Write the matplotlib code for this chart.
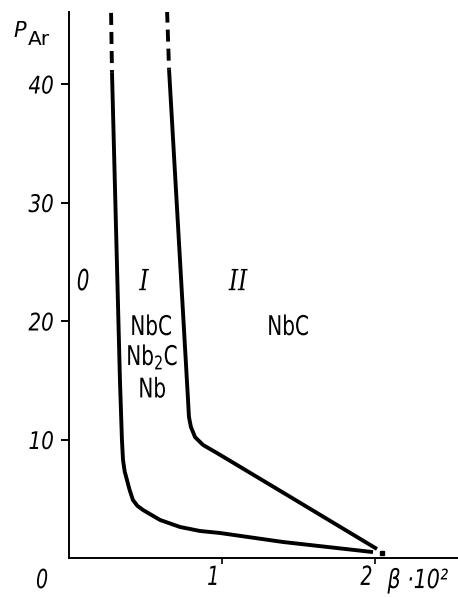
import matplotlib
matplotlib.use("Agg")
import matplotlib.pyplot as plt
from matplotlib.patheffects import AbstractPathEffect
from matplotlib.transforms import Affine2D

# Boundary 0 / I  (x = beta*10^2, y = P_Ar)
left_x = [0.281, 0.333, 0.346, 0.353, 0.364, 0.379, 0.396, 0.418, 0.447, 0.484, 0.595, 0.725, 0.856, 0.987, 1.399, 1.987]
left_y = [41.0, 15.0, 9.96, 8.27, 7.3, 6.58, 5.75, 4.89, 4.4, 4.05, 3.21, 2.62, 2.28, 2.11, 1.35, 0.50]
left_dash_x = [0.275, 0.281]
left_dash_y = [46.0, 41.0]

# Boundary I / II
right_x = [0.654, 0.778, 0.784, 0.797, 0.824, 0.876, 0.967, 1.098, 1.425, 2.013]
right_y = [41.2, 13.33, 11.9, 11.05, 10.2, 9.54, 8.86, 7.85, 5.32, 0.76]
right_dash_x = [0.641, 0.654]
right_dash_y = [46.2, 41.2]

end_dot = (2.046, 0.42)

y_ticks = [10, 20, 30, 40]
x_ticks = [1, 2]


class Squeeze(AbstractPathEffect):
    """Draw text narrower (condensed look) around its own centre."""
    def __init__(self, sx=0.8):
        super().__init__()
        self.sx = sx

    def draw_path(self, renderer, gc, tpath, affine, rgbFace=None):
        ext = tpath.get_extents(affine)
        cx = 0.5 * (ext.x0 + ext.x1)
        tr = affine + Affine2D().translate(-cx, 0).scale(self.sx, 1).translate(cx, 0)
        renderer.draw_path(gc, tpath, tr, rgbFace)


SANS = 'DejaVu Sans'
SERIF = 'DejaVu Serif'

fig = plt.figure(figsize=(4.58, 5.97), dpi=100)
ax = fig.add_axes([69 / 458, 1 - 558 / 597, 1 - 69 / 458, (558 - 12) / 597])
ax.set_xlim(0, (458 - 69) / 153)
ax.set_ylim(0, (558 - 12) / 11.85)

for s in ['top', 'right']:
    ax.spines[s].set_visible(False)
for s in ['left', 'bottom']:
    ax.spines[s].set_linewidth(1.4)

lw = 2.8
ax.plot(left_x, left_y, color='black', lw=lw, solid_capstyle='butt', solid_joinstyle='round')
ax.plot(right_x, right_y, color='black', lw=lw, solid_capstyle='butt', solid_joinstyle='round')
ax.plot(left_dash_x, left_dash_y, color='black', lw=lw, linestyle=(0, (3.1, 1.8)))
ax.plot(right_dash_x, right_dash_y, color='black', lw=lw, linestyle=(0, (3.1, 1.8)))
ax.plot([end_dot[0]], [end_dot[1]], 's', color='black', ms=3, clip_on=False)

# ticks
ax.set_yticks(y_ticks)
ax.set_yticklabels([str(v) for v in y_ticks], family=SANS, style='italic', fontsize=17.5)
ax.tick_params(axis='y', direction='out', length=6, width=1.4, pad=3)
for lab in ax.get_yticklabels():
    lab.set_path_effects([Squeeze(0.82)])

ax.set_xticks(x_ticks)
ax.set_xticklabels([str(v) for v in x_ticks], family=SANS, style='italic', fontsize=19)
ax.tick_params(axis='x', direction='out', length=4, width=1.2, pad=1)
for lab in ax.get_xticklabels():
    lab.set_horizontalalignment('right')
    lab.set_path_effects([Squeeze(0.72)])

ax.text(-0.176, -2.54, '0', family=SANS, style='italic', fontsize=19,
        ha='center', va='baseline', clip_on=False, path_effects=[Squeeze(0.72)])
ax.text(2.28, -2.54, 'β ·10²', family=SANS, style='italic', fontsize=19,
        ha='center', va='baseline', clip_on=False, path_effects=[Squeeze(0.78)])

# axis name
fig.text(13 / 458, 1 - 37 / 597, 'P', family=SANS, style='italic', fontsize=15,
         ha='left', va='baseline')
fig.text(28 / 458, 1 - 45 / 597, 'Ar', family=SANS, fontsize=14.5,
         ha='left', va='baseline')

# region labels
ax.text(0.092, 22.6, '0', family=SANS, style='italic', fontsize=21,
        ha='center', va='baseline', path_effects=[Squeeze(0.68)])
ax.text(0.49, 22.6, 'I', family=SERIF, style='italic', fontsize=21,
        ha='center', va='baseline', path_effects=[Squeeze(0.8)])
ax.text(1.105, 22.6, 'II', family=SERIF, style='italic', fontsize=21,
        ha='center', va='baseline', path_effects=[Squeeze(0.8)])

sq_r = [Squeeze(0.74)]
ax.text(0.536, 18.82, 'NbC', family=SANS, fontsize=19.5, ha='center', va='baseline', path_effects=sq_r)
ax.text(0.543, 16.29, 'Nb$_2$C', family=SANS, fontsize=19.5, ha='center', va='baseline', path_effects=sq_r)
ax.text(0.543, 13.55, 'Nb', family=SANS, fontsize=19.5, ha='center', va='baseline', path_effects=sq_r)
ax.text(1.431, 18.82, 'NbC', family=SANS, fontsize=19.5, ha='center', va='baseline', path_effects=sq_r)

fig.savefig('out.png', dpi=100)
